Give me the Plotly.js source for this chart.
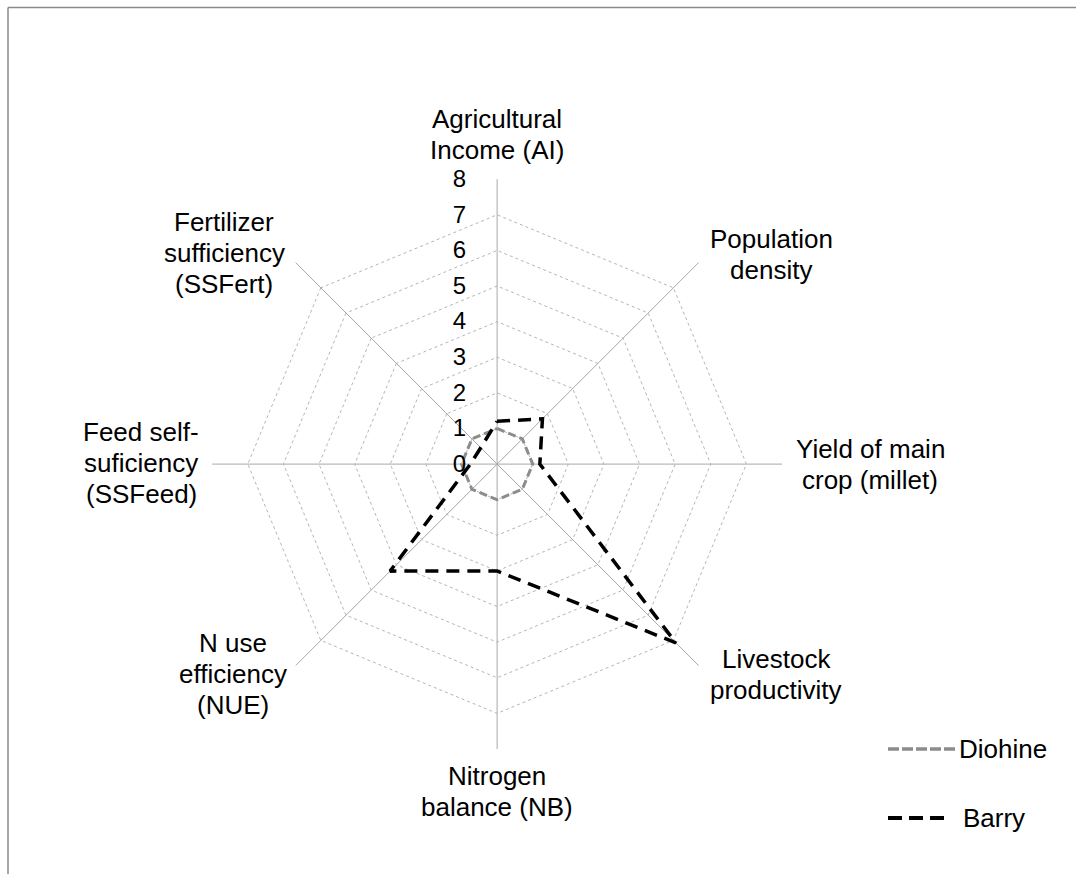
<!DOCTYPE html>
<html>
<head>
<meta charset="utf-8">
<script src="https://cdn.plot.ly/plotly-3.0.1.min.js"></script>
<style>html,body{margin:0;padding:0;background:#fff;}#chart{width:1076px;height:874px;}</style>
</head>
<body>
<div id="chart"></div>
<script>
const categories = [
  "Agricultural<br>Income (AI)",
  "Population<br>density",
  "Yield of main<br>crop (millet)",
  "Livestock<br>productivity",
  "Nitrogen<br>balance (NB)",
  "N use<br>efficiency<br>(NUE)",
  "Feed self-<br>suficiency<br>(SSFeed)",
  "Fertilizer<br>sufficiency<br>(SSFert)"
];
const seriesNames = ["Diohine", "Barry"];
const diohine = [1, 1, 1, 1, 1, 1, 1, 1];
const barry = [1.2, 1.8, 1.2, 7.1, 3.0, 4.25, 0.75, 0.65];
const radialTicks = [0, 1, 2, 3, 4, 5, 6, 7, 8];

// ---- presentation (positions / styles) ----
const W = 1076, H = 874;
const labelPos = [[497,119],[771,239],[870,449],[776,659],[497,776],[233,643],[141,432],[224,222]];
const lineStep = 31;
const FONT = 'Liberation Sans, Arial, sans-serif';
const styles = [
  {color: '#8c8c8c', width: 3, dash: '8px,4px'},
  {color: '#000000', width: 3.5, dash: '13px,8px'}
];
const legendStyles = [
  {color: '#8c8c8c', width: 3.5, dash: '11px,3px'},
  {color: '#000000', width: 4, dash: '14px,7px'}
];
const legendRows = [749, 818];
const legendLine = [[888, 955], [888, 944]];
const legendTextX = [957, 961];

function closed(a) { return a.concat([a[0]]); }
const px = x => x / W, py = y => 1 - y / H;

const traces = [diohine, barry].map((vals, i) => ({
  type: 'scatterpolar', mode: 'lines', name: seriesNames[i],
  r: closed(vals), theta: closed(categories),
  line: styles[i], showlegend: false
}));

const annotations = [];
categories.forEach((c, i) => {
  c.split('<br>').forEach((ln, j) => {
    annotations.push({
      xref: 'paper', yref: 'paper', x: px(labelPos[i][0]), y: py(labelPos[i][1] + j * lineStep),
      xanchor: 'center', yanchor: 'middle', showarrow: false, text: ln,
      font: {family: FONT, size: 26, color: '#000'}
    });
  });
});
const shapes = [
  {type: 'line', xref: 'paper', yref: 'paper', x0: px(8), x1: 1, y0: py(7.5), y1: py(7.5),
   line: {color: '#8a8a8a', width: 1.5}},
  {type: 'line', xref: 'paper', yref: 'paper', x0: px(8), x1: px(8), y0: 0, y1: py(7.5),
   line: {color: '#8a8a8a', width: 1.5}}
];
seriesNames.forEach((n, i) => {
  shapes.push({type: 'line', xref: 'paper', yref: 'paper', x0: px(legendLine[i][0]), x1: px(legendLine[i][1]),
    y0: py(legendRows[i]), y1: py(legendRows[i]), line: legendStyles[i]});
  annotations.push({xref: 'paper', yref: 'paper', x: px(legendTextX[i]), y: py(legendRows[i]),
    xanchor: 'left', yanchor: 'middle', showarrow: false, text: n,
    font: {family: FONT, size: 26, color: '#000'}});
});

const layout = {
  width: W, height: H,
  margin: {l: 0, r: 0, t: 0, b: 0},
  paper_bgcolor: '#ffffff',
  font: {family: FONT, color: '#000', size: 24},
  showlegend: false,
  polar: {
    domain: {x: [0.197, 0.727], y: [0.143, 0.795]},
    gridshape: 'linear',
    bgcolor: '#ffffff',
    radialaxis: {
      range: [0, 8], tickvals: radialTicks, ticktext: radialTicks.map(String),
      angle: 90, tickangle: 90, side: 'counterclockwise',
      showline: false, ticks: 'outside', ticklen: 22, tickcolor: 'rgba(0,0,0,0)',
      gridcolor: '#b5b5b5', griddash: 'dot', gridwidth: 1,
      tickfont: {family: FONT, size: 24, color: '#000'}
    },
    angularaxis: {
      direction: 'clockwise', rotation: 90,
      showline: false, ticks: '', showticklabels: false,
      gridcolor: '#a8a8a8', gridwidth: 1
    }
  },
  shapes: shapes,
  annotations: annotations
};

Plotly.newPlot('chart', traces, layout, {displayModeBar: false, staticPlot: true});
</script>
</body>
</html>
